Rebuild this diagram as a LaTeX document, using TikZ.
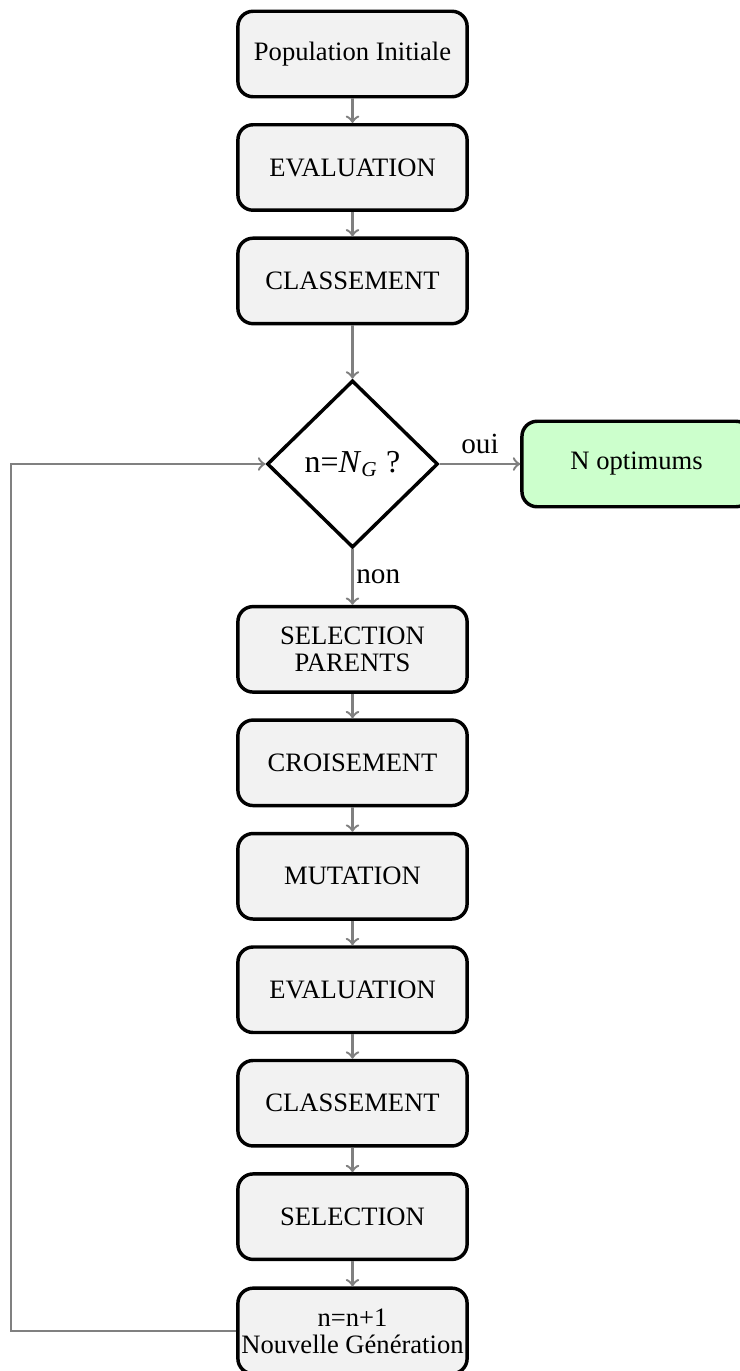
\documentclass[tikz,border=0pt]{standalone}
\usepackage{fontspec}
\setmainfont{Liberation Serif}
\usetikzlibrary{shapes.geometric}
\begin{document}
\begin{tikzpicture}[
  etape/.style={draw=black, line width=1.3pt, rounded corners=0.2cm, fill=gray!10,
    minimum width=3.03cm, minimum height=1.13cm, inner sep=1pt, align=center,
    font=\fontsize{10}{10.2}\selectfont},
  fin/.style={etape, fill=green!20},
  choix/.style={diamond, draw=black, line width=1.3pt, minimum width=2.26cm,
    minimum height=2.21cm, inner sep=0pt, font=\fontsize{12}{14}\selectfont},
  fleche/.style={->, draw=gray, line width=0.9pt},
  lbl/.style={font=\fontsize{11}{13}\selectfont}
]
\useasboundingbox (-4.66,0.714) rectangle (5.11,-17.41);
% boucle principale
\node[etape] (pop) at (0,0) {Population Initiale};
\node[etape] (eval1) at (0,-1.5) {EVALUATION};
\node[etape] (class1) at (0,-3) {CLASSEMENT};
\node[choix] (test) at (0,-5.42) {n=\textit{N}\textsubscript{\textit{G}} ?};
\node[fin] (opt) at (3.755,-5.42) {N optimums};
\node[etape] (sel1) at (0,-7.87) {SELECTION\\PARENTS};
\node[etape] (crois) at (0,-9.37) {CROISEMENT};
\node[etape] (mut) at (0,-10.87) {MUTATION};
\node[etape] (eval2) at (0,-12.37) {EVALUATION};
\node[etape] (class2) at (0,-13.87) {CLASSEMENT};
\node[etape] (sel2) at (0,-15.37) {SELECTION};
\node[etape] (ngen) at (0,-16.88) {n=n+1\\Nouvelle Génération};
\draw[fleche] (pop) -- (eval1);
\draw[fleche] (eval1) -- (class1);
\draw[fleche] (class1) -- (test);
\draw[fleche] (test) -- node[lbl, above] {oui} (opt);
\draw[fleche] (test) -- node[lbl, right, inner sep=1pt] {non} (sel1);
\draw[fleche] (sel1) -- (crois);
\draw[fleche] (crois) -- (mut);
\draw[fleche] (mut) -- (eval2);
\draw[fleche] (eval2) -- (class2);
\draw[fleche] (class2) -- (sel2);
\draw[fleche] (sel2) -- (ngen);
% retour
\draw[fleche] (ngen.west) -- ++(-2.98,0) |- (test.west);
\end{tikzpicture}
\end{document}
